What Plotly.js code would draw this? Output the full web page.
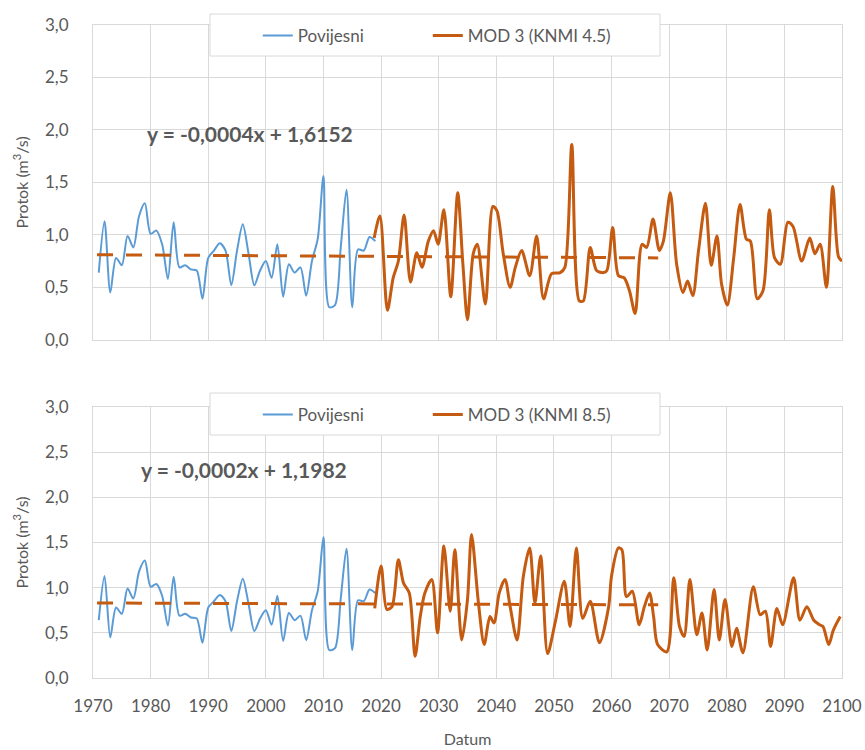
<!DOCTYPE html>
<html>
<head>
<meta charset="utf-8">
<script src="https://cdn.plot.ly/plotly-3.0.1.min.js"></script>
<style>html,body{margin:0;padding:0;background:#fff;}#chart{width:865px;height:750px;}</style>
</head>
<body>
<div id="chart"></div>
<script>
// Historical series (Povijesni), shared by both panels
const histYears = [1971,1972,1973,1974,1975,1976,1977,1978,1979,1980,1981,1982,1983,1984,1985,1986,1987,1988,1989,1990,1991,1992,1993,1994,1995,1996,1997,1998,1999,2000,2001,2002,2003,2004,2005,2006,2007,2008,2009,2010,2011,2012,2013,2014,2015,2016,2017,2018,2019];
const histFlow = [0.64,1.13,0.45,0.78,0.71,0.99,0.88,1.18,1.30,1.01,1.04,0.91,0.58,1.12,0.69,0.71,0.67,0.66,0.39,0.78,0.85,0.92,0.85,0.52,0.85,1.10,0.82,0.52,0.66,0.75,0.59,0.91,0.41,0.72,0.64,0.69,0.42,0.75,0.96,1.56,0.31,0.33,0.88,1.43,0.31,0.86,0.85,0.98,0.94];

// MOD 3 (KNMI 4.5) - top panel
const mod45Years = [2018.8,2019.8,2021.1,2022.1,2023.0,2024.0,2025.1,2026.2,2027.1,2028.2,2029.1,2029.9,2030.9,2032.1,2033.3,2034.2,2035.0,2036.0,2036.7,2038.1,2039.4,2040.1,2041.2,2042.4,2043.3,2044.4,2045.8,2047.0,2048.2,2049.6,2051.1,2051.9,2053.1,2054.4,2055.1,2056.3,2057.4,2058.6,2059.2,2060.2,2061.2,2062.2,2063.1,2064.1,2065.3,2066.1,2067.2,2068.3,2069.0,2070.2,2071.3,2072.4,2073.2,2074.1,2075.1,2076.3,2077.3,2078.3,2079.1,2080.1,2081.2,2082.3,2083.4,2084.1,2085.3,2086.3,2087.4,2088.3,2089.3,2090.6,2091.5,2093.0,2094.4,2095.3,2096.2,2097.3,2098.4,2099.4,2100.0];
const mod45Flow = [0.97,1.18,0.28,0.59,0.75,1.19,0.55,0.83,0.69,0.94,1.04,0.91,1.24,0.41,1.40,0.72,0.19,0.82,0.91,0.34,1.27,1.23,0.82,0.50,0.69,0.85,0.61,0.99,0.39,0.63,0.64,0.69,1.86,0.37,0.37,0.88,0.66,0.64,0.66,1.07,0.61,0.59,0.47,0.25,0.91,0.88,1.15,0.85,0.94,1.40,0.72,0.45,0.56,0.42,0.85,1.30,0.71,0.99,0.53,0.33,0.78,1.29,0.96,0.94,0.39,0.47,1.24,0.78,0.72,1.12,1.08,0.75,0.97,0.82,0.91,0.50,1.46,0.79,0.75];

// MOD 3 (KNMI 8.5) - bottom panel
const mod85Years = [2018.9,2020.0,2021.0,2021.9,2023.0,2023.9,2024.9,2025.9,2026.8,2027.6,2028.8,2029.8,2030.9,2032.0,2032.8,2034.0,2035.0,2035.7,2036.9,2037.9,2038.9,2039.6,2040.5,2041.5,2042.4,2043.6,2044.7,2045.8,2046.7,2047.7,2048.9,2050.2,2051.8,2052.8,2053.9,2055.0,2056.3,2057.9,2059.5,2060.0,2061.2,2061.8,2062.6,2063.6,2064.8,2065.7,2066.6,2067.3,2068.0,2069.6,2070.8,2071.8,2072.6,2073.6,2074.8,2075.7,2076.6,2077.8,2078.7,2079.7,2080.9,2081.7,2082.8,2084.6,2085.8,2086.7,2087.6,2088.7,2089.7,2091.6,2092.7,2093.9,2095.1,2096.1,2096.7,2097.7,2098.5,2099.7];
const mod85Flow = [0.77,1.24,0.76,0.79,1.31,1.05,0.94,0.24,0.68,0.94,1.09,0.50,1.46,0.74,1.42,0.42,0.87,1.59,0.83,0.37,0.68,0.61,0.94,1.09,0.79,0.42,1.13,1.44,0.83,1.35,0.27,0.61,1.07,0.57,1.44,0.66,0.85,0.39,0.79,1.13,1.44,1.42,0.90,0.96,0.59,0.79,0.94,0.68,0.37,0.29,1.11,0.57,0.46,1.09,0.48,0.72,0.31,0.98,0.42,0.87,0.35,0.55,0.28,1.01,0.70,0.74,0.35,0.77,0.59,1.11,0.64,0.79,0.64,0.59,0.57,0.37,0.53,0.68];

// Linear trend lines (as drawn)
const trendYears = [1970.7, 2068.1];
const trendTop = [0.81, 0.78];
const trendBottom = [0.83, 0.81];

const eqTop = 'y = -0,0004x + 1,6152';
const eqBottom = 'y = -0,0002x + 1,1982';
const yTicks = [0, 0.5, 1, 1.5, 2, 2.5, 3];
const xTicks = [1970,1980,1990,2000,2010,2020,2030,2040,2050,2060,2070,2080,2090,2100];

const BLUE = '#5B9BD5', ORANGE = '#C55A11', GRID = '#D9D9D9', TXT = '#595959';
const FONT = 'Lato, "Open Sans", sans-serif';

const traces = [
  {x: histYears, y: histFlow, xaxis: 'x2', yaxis: 'y2', type: 'scatter', mode: 'lines', name: 'Povijesni',
   line: {color: BLUE, width: 2, shape: 'spline', smoothing: 0.8}, legend: 'legend'},
  {x: mod45Years, y: mod45Flow, xaxis: 'x2', yaxis: 'y2', type: 'scatter', mode: 'lines', name: 'MOD 3 (KNMI 4.5)',
   line: {color: ORANGE, width: 3, shape: 'spline', smoothing: 0.8}, legend: 'legend2'},
  {x: trendYears, y: trendTop, xaxis: 'x2', yaxis: 'y2', type: 'scatter', mode: 'lines', showlegend: false,
   line: {color: ORANGE, width: 3, dash: '16px,13px'}},
  {x: histYears, y: histFlow, xaxis: 'x', yaxis: 'y', type: 'scatter', mode: 'lines', name: 'Povijesni',
   line: {color: BLUE, width: 2, shape: 'spline', smoothing: 0.8}, legend: 'legend3'},
  {x: mod85Years, y: mod85Flow, xaxis: 'x', yaxis: 'y', type: 'scatter', mode: 'lines', name: 'MOD 3 (KNMI 8.5)',
   line: {color: ORANGE, width: 3, shape: 'spline', smoothing: 0.8}, legend: 'legend4'},
  {x: trendYears, y: trendBottom, xaxis: 'x', yaxis: 'y', type: 'scatter', mode: 'lines', showlegend: false,
   line: {color: ORANGE, width: 3, dash: '16px,13px'}}
];

const xBase = {range: [1970, 2100], tickvals: xTicks, ticktext: xTicks.map(String), showgrid: true, gridcolor: GRID,
  zeroline: false, showline: true, linecolor: GRID, mirror: true, ticks: '', tickfont: {family: FONT, size: 17, color: TXT}, fixedrange: true};
const yBase = {range: [0, 3], tickvals: yTicks, tickformat: '.1f', showgrid: true, gridcolor: GRID, zeroline: false,
  showline: true, linecolor: GRID, mirror: true, ticks: '', ticklabelstandoff: 20, tickfont: {family: FONT, size: 17, color: TXT},
  title: {text: 'Protok (m<sup>3</sup>/s)', font: {family: FONT, size: 16, color: TXT}, standoff: 12}};

const legendBase = {orientation: 'h', xanchor: 'left', yanchor: 'top', bgcolor: 'rgba(0,0,0,0)', borderwidth: 0,
  font: {family: FONT, size: 17, color: TXT}};

const boxStyle = {type: 'rect', xref: 'paper', yref: 'paper', x0: 0.1562, x1: 0.757, fillcolor: '#fff',
  line: {color: GRID, width: 1}, layer: 'above'};

const layout = {
  width: 865, height: 750,
  margin: {l: 93, r: 23, t: 25, b: 72},
  paper_bgcolor: '#fff', plot_bgcolor: '#fff',
  separators: ',.',
  font: {family: FONT, color: TXT},
  xaxis: Object.assign({}, xBase, {anchor: 'y', ticklabelstandoff: 13,
    title: {text: 'Datum', font: {family: FONT, size: 16, color: TXT}, standoff: 18}}),
  xaxis2: Object.assign({}, xBase, {anchor: 'y2', matches: 'x', showticklabels: false}),
  yaxis: Object.assign({}, yBase, {domain: [0, 0.415], anchor: 'x'}),
  yaxis2: Object.assign({}, yBase, {domain: [0.518, 1], anchor: 'x2'}),
  legend: Object.assign({}, legendBase, {x: 0.22, y: 1.0107}),
  legend2: Object.assign({}, legendBase, {x: 0.447, y: 1.0107}),
  legend3: Object.assign({}, legendBase, {x: 0.22, y: 0.4303}),
  legend4: Object.assign({}, legendBase, {x: 0.447, y: 0.4303}),
  shapes: [
    Object.assign({}, boxStyle, {y0: 0.9525, y1: 1.0168}),
    Object.assign({}, boxStyle, {y0: 0.3721, y1: 0.4364})
  ],
  annotations: [
    {text: '<b>' + eqTop + '</b>', xref: 'paper', yref: 'paper', x: 0.2096, y: 0.8346, xanchor: 'center', yanchor: 'middle',
     showarrow: false, font: {family: FONT, size: 21, color: TXT}},
    {text: '<b>' + eqBottom + '</b>', xref: 'paper', yref: 'paper', x: 0.2016, y: 0.32, xanchor: 'center', yanchor: 'middle',
     showarrow: false, font: {family: FONT, size: 21, color: TXT}}
  ]
};

Plotly.newPlot('chart', traces, layout, {displayModeBar: false, staticPlot: true});
</script>
</body>
</html>
